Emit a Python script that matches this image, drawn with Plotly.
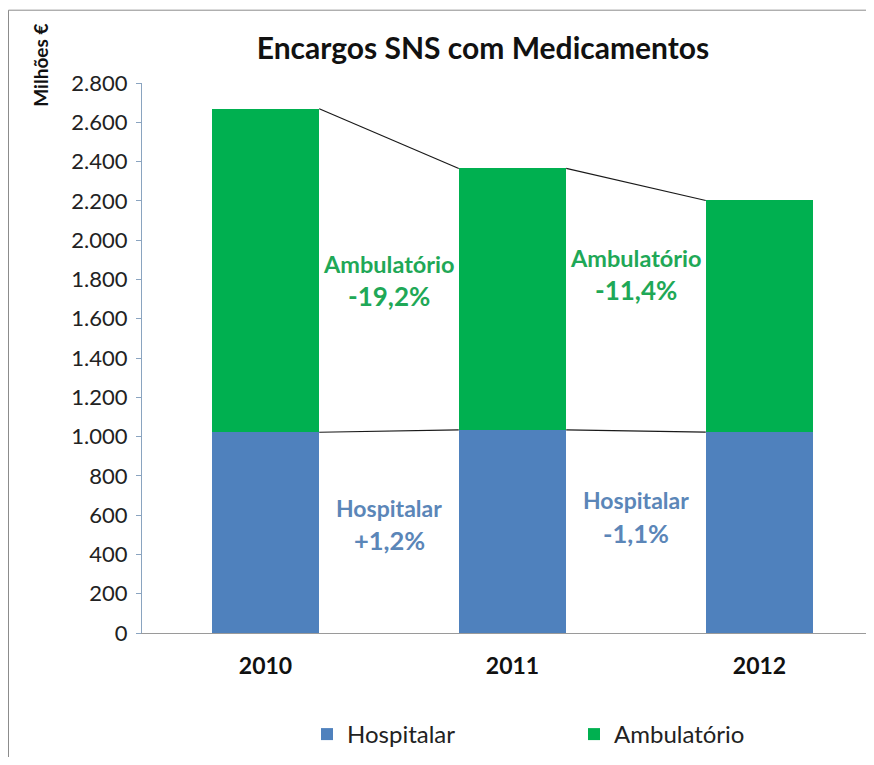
import plotly.graph_objects as go

years = ["2010", "2011", "2012"]
hospitalar = [1022, 1034, 1023]
ambulatorio = [1647, 1331, 1179]
y_ticks = [0, 200, 400, 600, 800, 1000, 1200, 1400, 1600, 1800, 2000, 2200, 2400, 2600, 2800]

amb_labels = ["Ambulatório", "Ambulatório"]
amb_changes = ["-19,2%", "-11,4%"]
hosp_labels = ["Hospitalar", "Hospitalar"]
hosp_changes = ["+1,2%", "-1,1%"]

BLUE = "#4F81BD"
GREEN = "#00B050"
HOSP_TXT = "#5B86B8"
AMB_TXT = "#1FA857"
FONT = "Lato"
W = 0.435

# page offset of the plot div (browser default body margin)
OFF = 8
FIG_W, FIG_H = 874 - 2 * OFF, 765 - 2 * OFF
PL, PT, PH = 142, 83.3, 550  # plot area in page pixels
PW = FIG_W + OFF - PL


def px(xp):
    return (xp - PL) / PW


def py(yp):
    return (PT + PH - yp) / PH


xs = list(range(len(years)))
totals = [h + a for h, a in zip(hospitalar, ambulatorio)]

fig = go.Figure()
fig.add_trace(go.Bar(x=xs, y=hospitalar, name="Hospitalar", marker=dict(color=BLUE, line=dict(width=0)), width=W))
fig.add_trace(go.Bar(x=xs, y=ambulatorio, name="Ambulatório", marker=dict(color=GREEN, line=dict(width=0)), width=W))


def connector(vals):
    lx, ly = [], []
    for i in range(len(vals) - 1):
        lx += [xs[i] + W / 2, xs[i + 1] - W / 2, None]
        ly += [vals[i], vals[i + 1], None]
    return lx, ly


for vals in (totals, hospitalar):
    lx, ly = connector(vals)
    fig.add_trace(go.Scatter(x=lx, y=ly, mode="lines", line=dict(color="#1a1a1a", width=1.2),
                             showlegend=False, hoverinfo="skip"))

ann = []
amb_y = [(1878, 1716), (1909, 1746)]
hosp_y = [(638, 475), (678, 510)]
for i in range(2):
    xm = (xs[i] + xs[i + 1]) / 2
    ann.append(dict(x=xm, y=amb_y[i][0], text="<b>%s</b>" % amb_labels[i], showarrow=False,
                    font=dict(family=FONT, size=23.5, color=AMB_TXT)))
    ann.append(dict(x=xm, y=amb_y[i][1], text="<b>%s</b>" % amb_changes[i], showarrow=False,
                    font=dict(family=FONT, size=26, color=AMB_TXT)))
    ann.append(dict(x=xm, y=hosp_y[i][0], text="<b>%s</b>" % hosp_labels[i], showarrow=False,
                    font=dict(family=FONT, size=23, color=HOSP_TXT)))
    ann.append(dict(x=xm, y=hosp_y[i][1], text="<b>%s</b>" % hosp_changes[i], showarrow=False,
                    font=dict(family=FONT, size=25.5, color=HOSP_TXT)))

ann.append(dict(xref="paper", yref="paper", x=px(41), y=py(66), xanchor="center", yanchor="middle",
                text="<b>Milhões €</b>", textangle=-90, showarrow=False,
                font=dict(family=FONT, size=19, color="#111")))

border = dict(color="#8c8c8c", width=1)
fig.update_layout(
    width=FIG_W, height=FIG_H,
    margin=dict(l=PL - OFF, r=0, t=PT - OFF, b=FIG_H - (PT - OFF) - PH),
    paper_bgcolor="white", plot_bgcolor="white",
    separators=",.",
    barmode="stack",
    title=dict(text="<b>Encargos SNS com Medicamentos</b>", x=(483 - OFF) / FIG_W, xanchor="center",
               y=1 - (48 - OFF) / FIG_H, yanchor="middle", font=dict(family=FONT, size=30, color="#111")),
    xaxis=dict(tickmode="array", tickvals=xs, ticktext=["<b>%s</b>" % y for y in years],
               range=[-0.5, -0.5 + PW / 247], showline=True, linecolor="#9a9a9a", linewidth=1,
               ticks="", showgrid=False, zeroline=False, ticklabelstandoff=12,
               tickfont=dict(family=FONT, size=23, color="#111")),
    yaxis=dict(range=[0, 2800], tickmode="array", tickvals=y_ticks, tickformat=",d",
               showline=True, linecolor="#8AA4C0", linewidth=1, ticks="outside", ticklen=5,
               tickcolor="#8AA4C0", showgrid=False, zeroline=False, ticklabelstandoff=4,
               tickfont=dict(family=FONT, size=22, color="#222")),
    legend=dict(orientation="h", traceorder="normal", x=px(307), xanchor="left", y=py(735),
                yanchor="middle", font=dict(family=FONT, size=24, color="#222"), itemwidth=30,
                entrywidth=222),
    annotations=ann,
    shapes=[
        dict(type="line", xref="paper", yref="paper", x0=px(OFF + 0.5), x1=px(900),
             y0=py(10.5), y1=py(10.5), line=border, layer="below"),
        dict(type="line", xref="paper", yref="paper", x0=px(OFF + 0.5), x1=px(OFF + 0.5),
             y0=py(10.5), y1=py(800), line=border, layer="below"),
    ],
)

fig.write_html("out.html")
